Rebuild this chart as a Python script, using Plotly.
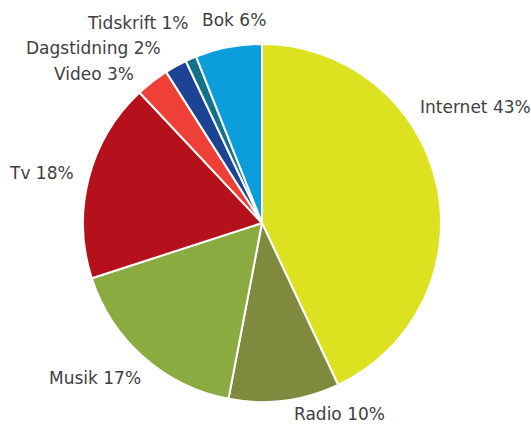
import plotly.graph_objects as go

# Media share data
categories = ["Internet", "Radio", "Musik", "Tv", "Video", "Dagstidning", "Tidskrift", "Bok"]
shares = [43, 10, 17, 18, 3, 2, 1, 6]
colors = ["#dde220", "#7f8a3f", "#8aab40", "#b5111c", "#ef4037", "#1d4494", "#137189", "#0b9edb"]

# Label placement (pixel centres in the 531x424 canvas)
label_pos = {
    "Internet": (475, 107),
    "Radio": (339, 414),
    "Musik": (95, 378),
    "Tv": (41, 173),
    "Video": (94, 74),
    "Dagstidning": (93, 48),
    "Tidskrift": (138, 23),
    "Bok": (234, 20),
}

W, H = 531, 424
cx, cy, r = 262, 223, 179
ml, mr, mt, mb = cx - r, W - (cx + r), cy - r, H - (cy + r)
pw, ph = W - ml - mr, H - mt - mb

fig = go.Figure(go.Pie(
    labels=categories,
    values=shares,
    sort=False,
    direction="clockwise",
    rotation=0,
    marker=dict(colors=colors, line=dict(color="white", width=2)),
    textinfo="none",
    hoverinfo="label+percent",
    showlegend=False,
))

annotations = []
for cat, val in zip(categories, shares):
    px, py = label_pos[cat]
    annotations.append(dict(
        x=(px - ml) / pw, y=1 - (py - mt) / ph, xref="paper", yref="paper",
        text=f"{cat} {val}%", showarrow=False,
        xanchor="center", yanchor="middle",
        font=dict(family="DejaVu Sans", size=17, color="#404040"),
    ))

fig.update_layout(
    width=W, height=H,
    margin=dict(l=ml, r=mr, t=mt, b=mb, pad=0),
    paper_bgcolor="white",
    plot_bgcolor="white",
    annotations=annotations,
)

fig.write_html("out.html")
